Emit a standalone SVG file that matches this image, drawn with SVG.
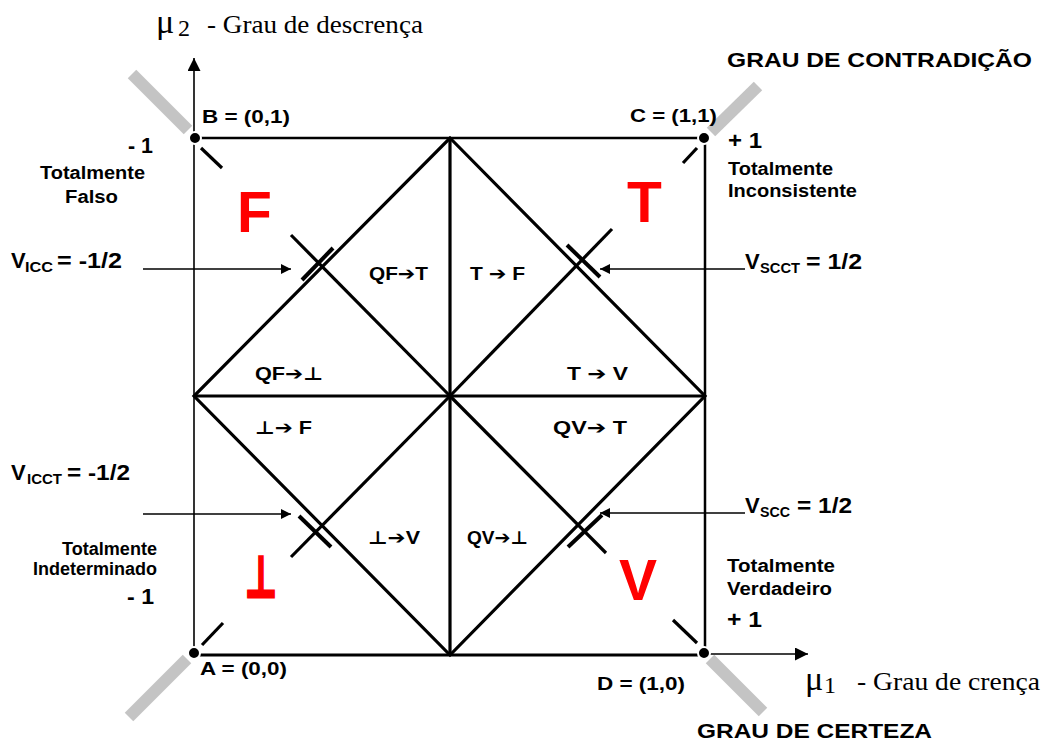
<svg xmlns="http://www.w3.org/2000/svg" width="1047" height="742" viewBox="0 0 1047 742">
<defs>
<style>
.ln{stroke:#000;fill:none}
.thin{stroke-width:1.6}
.med{stroke-width:2.5}
.thk{stroke-width:3.2}
.gray{stroke:#c4c4c4;stroke-width:12;fill:none}
.b{font-family:"Liberation Sans",Arial,"DejaVu Sans",sans-serif;font-weight:bold;fill:#000}
.lab{font-size:18px}
.sm{font-size:18px}
.big{font-size:22px}
.sub{font-size:14px}
.arr{font-family:"DejaVu Sans",sans-serif;font-weight:bold}
.red{font-family:"Liberation Sans",Arial,"DejaVu Sans",sans-serif;font-weight:bold;fill:#ff0000;font-size:57px}
.serif{font-family:"Liberation Serif","Times New Roman",serif;fill:#000}
.ttl{font-size:20px}
.dot{fill:#000;stroke:#fff;stroke-width:2}
</style>
<marker id="ah" viewBox="0 0 10 10" refX="10" refY="5" markerWidth="15" markerHeight="10" markerUnits="userSpaceOnUse" orient="auto"><path d="M0,0 L10,5 L0,10 z" fill="#000"/></marker>
<marker id="axh" viewBox="0 0 10 10" refX="10" refY="5" markerWidth="18" markerHeight="13" markerUnits="userSpaceOnUse" orient="auto"><path d="M0,0 L10,5 L0,10 z" fill="#000"/></marker>
</defs>
<rect width="1047" height="742" fill="#fff"/>

<g id="grayBars">
<line class="gray" x1="132" y1="74" x2="188" y2="130"/>
<line class="gray" x1="711" y1="132" x2="758" y2="86"/>
<line class="gray" x1="187" y1="659" x2="129" y2="717"/>
<line class="gray" x1="710" y1="659" x2="763" y2="712"/>
</g>

<g id="connectors">
<line class="ln thin" x1="194" y1="655" x2="194" y2="58" marker-end="url(#axh)"/>
<line class="ln thin" x1="705" y1="654" x2="808" y2="654" marker-end="url(#axh)"/>
<line class="ln med" x1="194" y1="138" x2="705" y2="138"/>
<line class="ln med" x1="705" y1="138" x2="705" y2="655"/>
<line class="ln thk" x1="194" y1="655" x2="705" y2="655"/>
<line class="ln thk" x1="450" y1="138" x2="450" y2="655"/>
<line class="ln thk" x1="194" y1="396" x2="705" y2="396"/>
<polygon class="ln thk" points="450,138 705,396 450,655 194,396"/>
<line class="ln thk" x1="450" y1="396" x2="291" y2="235"/>
<line class="ln thk" x1="450" y1="396" x2="612" y2="229"/>
<line class="ln thk" x1="450" y1="396" x2="291" y2="557"/>
<line class="ln thk" x1="450" y1="396" x2="606" y2="553"/>
<line class="ln thk" x1="201" y1="148" x2="222" y2="168"/>
<line class="ln thk" x1="697" y1="148" x2="683" y2="163"/>
<line class="ln thk" x1="202" y1="645" x2="223" y2="623"/>
<line class="ln thk" x1="697" y1="643" x2="673" y2="620"/>
<line class="ln" stroke-width="4" x1="302" y1="280" x2="333" y2="248"/>
<line class="ln" stroke-width="4" x1="567" y1="245" x2="600" y2="277"/>
<line class="ln" stroke-width="4" x1="299" y1="516" x2="331" y2="547"/>
<line class="ln" stroke-width="4" x1="568" y1="547" x2="602" y2="515"/>
<line class="ln thin" x1="143" y1="269" x2="291" y2="269" marker-end="url(#ah)"/>
<line class="ln thin" x1="745" y1="269" x2="600" y2="269" marker-end="url(#ah)"/>
<line class="ln thin" x1="143" y1="514" x2="291" y2="514" marker-end="url(#ah)"/>
<line class="ln thin" x1="745" y1="513" x2="600" y2="513" marker-end="url(#ah)"/>
</g>

<g id="nodeB">
<circle class="dot" cx="195" cy="138" r="6"/>
<text class="b sm" x="202" y="123" textLength="88" lengthAdjust="spacingAndGlyphs">B = (0,1)</text>
<text class="b big" x="128" y="153" textLength="25" lengthAdjust="spacingAndGlyphs">- 1</text>
<text class="b sm" x="40" y="179" textLength="105" lengthAdjust="spacingAndGlyphs">Totalmente</text>
<text class="b sm" x="65" y="203" textLength="53" lengthAdjust="spacingAndGlyphs">Falso</text>
<text class="red" x="237" y="232">F</text>
</g>

<g id="nodeC">
<circle class="dot" cx="704" cy="138" r="6"/>
<text class="b sm" x="630" y="122" textLength="87" lengthAdjust="spacingAndGlyphs">C = (1,1)</text>
<text class="b big" x="728" y="148" textLength="34" lengthAdjust="spacingAndGlyphs">+ 1</text>
<text class="b sm" x="728" y="175" textLength="105" lengthAdjust="spacingAndGlyphs">Totalmente</text>
<text class="b sm" x="728" y="197" textLength="129" lengthAdjust="spacingAndGlyphs">Inconsistente</text>
<text class="red" x="627" y="222">T</text>
</g>

<g id="nodeA">
<circle class="dot" cx="194" cy="653" r="6"/>
<text class="b sm" x="200" y="675" textLength="87" lengthAdjust="spacingAndGlyphs">A = (0,0)</text>
<text class="b sm" x="62" y="555" textLength="95" lengthAdjust="spacingAndGlyphs">Totalmente</text>
<text class="b sm" x="33" y="575" textLength="124" lengthAdjust="spacingAndGlyphs">Indeterminado</text>
<text class="b big" x="127" y="604" textLength="27" lengthAdjust="spacingAndGlyphs">- 1</text>
<text class="red" x="261" y="597" text-anchor="middle" stroke="#ff0000" stroke-width="3" textLength="32" lengthAdjust="spacingAndGlyphs">⊥</text>
</g>

<g id="nodeD">
<circle class="dot" cx="704" cy="653" r="6"/>
<text class="b sm" x="597" y="690" textLength="88" lengthAdjust="spacingAndGlyphs">D = (1,0)</text>
<text class="b sm" x="727" y="572" textLength="108" lengthAdjust="spacingAndGlyphs">Totalmente</text>
<text class="b sm" x="727" y="595" textLength="105" lengthAdjust="spacingAndGlyphs">Verdadeiro</text>
<text class="b big" x="727" y="627" textLength="35" lengthAdjust="spacingAndGlyphs">+ 1</text>
<text class="red" x="619" y="600">V</text>
</g>

<g id="axisY">
<text class="serif" font-size="34" x="156" y="33">μ</text>
<text class="serif" font-size="24" x="178" y="36">2</text>
<text class="serif" font-size="26" x="207" y="33" textLength="216" lengthAdjust="spacingAndGlyphs">- Grau de descrença</text>
</g>

<g id="axisX">
<text class="serif" font-size="34" x="805" y="690">μ</text>
<text class="serif" font-size="24" x="824" y="693">1</text>
<text class="serif" font-size="26" x="857" y="690" textLength="183" lengthAdjust="spacingAndGlyphs">- Grau de crença</text>
</g>

<g id="titles">
<text class="b ttl" x="727" y="67" textLength="305" lengthAdjust="spacingAndGlyphs">GRAU DE CONTRADIÇÃO</text>
<text class="b ttl" x="697" y="738" textLength="235" lengthAdjust="spacingAndGlyphs">GRAU DE CERTEZA</text>
</g>

<g id="vicc">
<text class="b big" x="11" y="268">V</text>
<text class="b sub" x="25" y="272" textLength="28" lengthAdjust="spacingAndGlyphs">ICC</text>
<text class="b big" x="57" y="268" textLength="65" lengthAdjust="spacingAndGlyphs">= -1/2</text>
</g>
<g id="vscct">
<text class="b big" x="745" y="269">V</text>
<text class="b sub" x="760" y="273" textLength="40" lengthAdjust="spacingAndGlyphs">SCCT</text>
<text class="b big" x="806" y="269" textLength="56" lengthAdjust="spacingAndGlyphs">= 1/2</text>
</g>
<g id="vicct">
<text class="b big" x="11" y="480">V</text>
<text class="b sub" x="27" y="484" textLength="35" lengthAdjust="spacingAndGlyphs">ICCT</text>
<text class="b big" x="67" y="480" textLength="63" lengthAdjust="spacingAndGlyphs">= -1/2</text>
</g>
<g id="vscc">
<text class="b big" x="745" y="513">V</text>
<text class="b sub" x="760" y="517" textLength="30" lengthAdjust="spacingAndGlyphs">SCC</text>
<text class="b big" x="797" y="513" textLength="55" lengthAdjust="spacingAndGlyphs">= 1/2</text>
</g>

<g id="regions">
<text class="b lab" x="369" y="280" textLength="59" lengthAdjust="spacingAndGlyphs">QF<tspan class="arr">➔</tspan>T</text>
<text class="b lab" x="470" y="280" textLength="55" lengthAdjust="spacingAndGlyphs">T <tspan class="arr">➔</tspan> F</text>
<text class="b lab" x="255" y="380" textLength="68" lengthAdjust="spacingAndGlyphs">QF<tspan class="arr">➔</tspan>⊥</text>
<text class="b lab" x="567" y="380" textLength="61" lengthAdjust="spacingAndGlyphs">T <tspan class="arr">➔</tspan> V</text>
<text class="b lab" x="255" y="434" textLength="57" lengthAdjust="spacingAndGlyphs">⊥<tspan class="arr">➔</tspan> F</text>
<text class="b lab" x="553" y="434" textLength="74" lengthAdjust="spacingAndGlyphs">QV<tspan class="arr">➔</tspan> T</text>
<text class="b lab" x="368" y="544" textLength="52" lengthAdjust="spacingAndGlyphs">⊥<tspan class="arr">➔</tspan>V</text>
<text class="b lab" x="467" y="544" textLength="61" lengthAdjust="spacingAndGlyphs">QV<tspan class="arr">➔</tspan>⊥</text>
</g>
</svg>
